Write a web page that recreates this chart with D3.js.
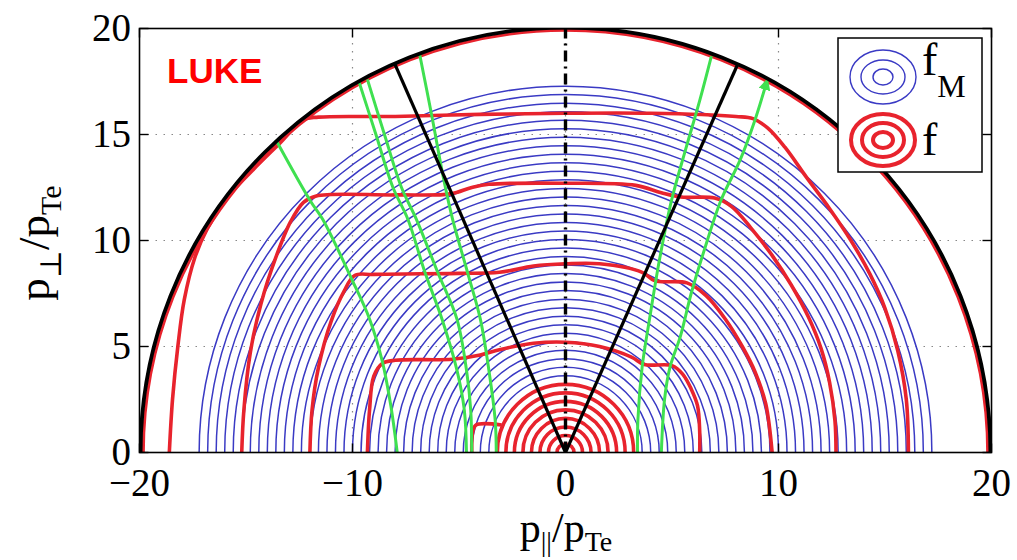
<!DOCTYPE html>
<html>
<head>
<meta charset="utf-8">
<script src="https://cdn.jsdelivr.net/npm/d3@7"></script>
<style>
  body { margin: 0; background: #fff; }
  text { font-family: "Liberation Serif", "DejaVu Serif", serif; }
</style>
</head>
<body>
<svg id="chart" width="1017" height="560"></svg>
<script>
"use strict";

// Maxwellian contours f_M (radii, p/pTe)
const blueRadii = [0.4, 0.8, 1.2, 1.6, 2.0, 2.4, 2.8, 3.2, 3.6, 4.0, 4.4, 4.8, 5.2, 5.6, 6.0,
  6.4, 6.8, 7.2, 7.6, 8.0, 8.4, 8.8, 9.2, 9.6, 10.0, 10.4, 10.8, 11.2, 11.6, 12.0, 12.4,
  12.8, 13.2, 13.6, 14.0, 14.4, 14.8, 15.2, 15.6, 16.0, 16.4, 16.8, 17.2];

// bulk of f (still maxwellian near the origin)
const redRings = [0.4, 0.8, 1.2, 1.6, 2.0, 2.4, 2.8, 3.2];

// distorted contours of f, points [p_par, p_perp]
const contourA = [[-4.4, 0], [-4.35, 1.0], [-4.2, 1.3], [-3.0, 1.3]];
const contourB = [[-9.3, 0], [-9.2, 2], [-9.0, 3.6], [-8.6, 4.2], [-8.0, 4.35], [-5.3, 4.4],
  [-4.0, 4.6], [-3.1, 4.85], [-1.5, 5.15], [0, 5.2], [1.6, 5.0], [3.1, 4.5], [3.7, 4.15],
  [5.0, 4.1], [5.5, 3.7], [5.9, 3.0], [6.2, 2.2], [6.3, 1], [6.3, 0]];
const contourC = [[-12.0, 0], [-11.9, 2], [-11.6, 4], [-11.0, 6.2], [-10.4, 7.6], [-9.9, 8.35],
  [-9.0, 8.4], [-5, 8.45], [-3.1, 8.5], [-1.5, 8.8], [0, 8.9], [1.6, 8.9], [3.6, 8.5],
  [4.2, 8.1], [5.7, 8.0], [6.6, 7.4], [7.5, 6.3], [8.3, 5.0], [8.9, 3.8], [9.4, 2.3], [9.7, 0]];
const contourD = [[-15.2, 0], [-15.1, 2], [-14.8, 4.7], [-14.3, 7], [-13.6, 9.2], [-12.9, 10.9],
  [-12.3, 11.8], [-11.7, 12.1], [-8, 12.15], [-5.4, 12.2], [-4.4, 12.5], [-3.6, 12.65],
  [0, 12.7], [3.3, 12.6], [4.5, 12.25], [5.4, 12.05], [7.0, 12.0], [7.8, 11.6], [8.7, 10.6],
  [9.7, 9.3], [10.6, 7.9], [11.4, 6.4], [12.0, 4.9], [12.4, 3.3], [12.65, 1.5], [12.7, 0]];
const contourE = [[-18.6, 0], [-18.45, 2.5], [-18.2, 5], [-17.9, 7.2], [-17.4, 9.2],
  [-16.8, 10.6], [-15.9, 12.0], [-14.7, 13.3], [-13.4, 14.6], [-12.3, 15.7], [-11.6, 15.82],
  [-8, 15.85], [-4, 15.95], [0, 16.0], [4, 16.0], [8.0, 15.85], [8.8, 15.75], [9.5, 15.3],
  [10.3, 14.4], [11.3, 13.0], [12.4, 11.5], [13.4, 10.0], [14.3, 8.4], [15.0, 6.8],
  [15.6, 4.8], [16.0, 2.5], [16.1, 0]];
const outerRedRadius = 19.82;

// ray trajectories
const rayG1 = [[-13.6, 14.75], [-12.0, 11.9], [-11.4, 11.0], [-10.0, 8.1], [-9.2, 6.3],
  [-8.6, 4.3], [-8.2, 2.2], [-7.9, 0]];
const rayG2 = [[-9.7, 17.5], [-8.9, 15], [-8.1, 12.5], [-7.4, 11.0], [-6.6, 8.5], [-5.8, 6.3],
  [-5.1, 3.9], [-4.75, 2], [-4.65, 0]];
const rayG3 = [[-9.3, 17.6], [-8.5, 15], [-7.7, 12.5], [-7.0, 11.0], [-6.0, 8.5], [-5.1, 6.3],
  [-4.65, 3.9], [-4.45, 2], [-4.4, 0]];
const rayG4 = [[-6.85, 18.8], [-6.3, 16], [-5.7, 12.8], [-5.3, 11.0], [-4.6, 8.5], [-4.0, 6.3],
  [-3.6, 3.9], [-3.3, 1.5], [-3.25, 0]];
const rayG5 = [[6.85, 18.7], [6.3, 16.6], [5.63, 14.26], [4.98, 11.9], [4.41, 9.08],
  [3.94, 6.26], [3.6, 4.05], [3.4, 1.55], [3.38, 0]];
const rayG6 = [[4.5, 0], [4.65, 2.5], [4.9, 4.0], [5.4, 5.5], [5.9, 7.5], [6.5, 9.5],
  [7.3, 11.9], [8.2, 13.8], [8.9, 15.7], [9.45, 17.5]];

// resonance cone and domain boundary
const coneLeft = [[0, 0], [-8.0, 18.3]];
const coneRight = [[0, 0], [8.1, 18.35]];
const boundaryRadius = 19.95;

const xTicks = [-20, -10, 0, 10, 20];
const yTicks = [0, 5, 10, 15, 20];
const xGrid = [-10, 0, 10];
const yGrid = [5, 10, 15];

const svg = d3.select("#chart");
const x = d3.scaleLinear().domain([-20, 20]).range([139.5, 991.5]);
const y = d3.scaleLinear().domain([0, 20]).range([452.5, 28.5]);

const defs = svg.append("defs");
defs.append("clipPath").attr("id", "plotclip")
  .append("rect")
  .attr("x", x(-20)).attr("y", y(20))
  .attr("width", x(20) - x(-20)).attr("height", y(0) - y(20));

defs.append("marker")
  .attr("id", "arrow").attr("viewBox", "0 0 10 10")
  .attr("refX", 7).attr("refY", 5)
  .attr("markerWidth", 4).attr("markerHeight", 4)
  .attr("orient", "auto")
  .append("path").attr("d", "M0,0 L10,5 L0,10 z").attr("fill", "#3fe050");

function halfCircle(r) {
  const R = x(r) - x(0);
  const p = d3.path();
  p.moveTo(x(0) - R, y(0));
  p.arc(x(0), y(0), R, Math.PI, 2 * Math.PI);
  return p.toString();
}

const line = d3.line()
  .x(d => x(d[0])).y(d => y(d[1]))
  .curve(d3.curveCatmullRom.alpha(0.5));

const plot = svg.append("g").attr("clip-path", "url(#plotclip)");

// grid
plot.selectAll(".gx").data(xGrid).enter().append("line")
  .attr("x1", d => x(d)).attr("x2", d => x(d))
  .attr("y1", y(0)).attr("y2", y(20))
  .attr("stroke", "#888").attr("stroke-width", 1.2).attr("stroke-dasharray", "1.5,6.5");
plot.selectAll(".gy").data(yGrid).enter().append("line")
  .attr("x1", x(-20)).attr("x2", x(20))
  .attr("y1", d => y(d)).attr("y2", d => y(d))
  .attr("stroke", "#888").attr("stroke-width", 1.2).attr("stroke-dasharray", "1.5,6.5");

// f_M
plot.selectAll(".fm").data(blueRadii).enter().append("path")
  .attr("d", d => halfCircle(d))
  .attr("fill", "none").attr("stroke", "#3a3ac4").attr("stroke-width", 1.5);

// f
const red = "#e8232d";
plot.append("path").attr("d", halfCircle(outerRedRadius))
  .attr("fill", "none").attr("stroke", red).attr("stroke-width", 3);
plot.selectAll(".ring").data(redRings).enter().append("path")
  .attr("d", d => halfCircle(d))
  .attr("fill", "none").attr("stroke", red).attr("stroke-width", 3.6);
plot.selectAll(".contour").data([contourA, contourB, contourC, contourD, contourE]).enter()
  .append("path")
  .attr("d", line)
  .attr("fill", "none").attr("stroke", red).attr("stroke-width", 3.6)
  .attr("stroke-linejoin", "round");

// rays
plot.selectAll(".ray").data([rayG1, rayG2, rayG3, rayG4, rayG5, rayG6]).enter()
  .append("path")
  .attr("d", line)
  .attr("fill", "none").attr("stroke", "#3fe050").attr("stroke-width", 3)
  .attr("marker-end", d => d === rayG6 ? "url(#arrow)" : null);

// cone
plot.selectAll(".cone").data([coneLeft, coneRight]).enter().append("path")
  .attr("d", d3.line().x(d => x(d[0])).y(d => y(d[1])))
  .attr("fill", "none").attr("stroke", "#000").attr("stroke-width", 3.2);
plot.append("line")
  .attr("x1", x(0)).attr("x2", x(0)).attr("y1", y(0)).attr("y2", y(20))
  .attr("stroke", "#000").attr("stroke-width", 3.4).attr("stroke-dasharray", "11,5,2,5");

// boundary
plot.append("path").attr("d", halfCircle(boundaryRadius))
  .attr("fill", "none").attr("stroke", "#000").attr("stroke-width", 3.8);

// axes box and ticks
svg.append("rect")
  .attr("x", x(-20)).attr("y", y(20))
  .attr("width", x(20) - x(-20)).attr("height", y(0) - y(20))
  .attr("fill", "none").attr("stroke", "#000").attr("stroke-width", 1.6);

const tickLen = 9;
const ticks = svg.append("g").attr("stroke", "#000").attr("stroke-width", 1.4);
xTicks.forEach(t => {
  ticks.append("line").attr("x1", x(t)).attr("x2", x(t)).attr("y1", y(0)).attr("y2", y(0) - tickLen);
  ticks.append("line").attr("x1", x(t)).attr("x2", x(t)).attr("y1", y(20)).attr("y2", y(20) + tickLen);
});
yTicks.forEach(t => {
  ticks.append("line").attr("x1", x(-20)).attr("x2", x(-20) + tickLen).attr("y1", y(t)).attr("y2", y(t));
  ticks.append("line").attr("x1", x(20)).attr("x2", x(20) - tickLen).attr("y1", y(t)).attr("y2", y(t));
});

const fmt = d3.format("d");
svg.selectAll(".xl").data(xTicks).enter().append("text")
  .attr("x", x).attr("y", 496)
  .attr("text-anchor", "middle").attr("font-size", 39)
  .text(fmt);
svg.selectAll(".yl").data(yTicks).enter().append("text")
  .attr("x", 131).attr("y", d => y(d) + 12)
  .attr("text-anchor", "end").attr("font-size", 39)
  .text(fmt);

// axis titles
const xt = svg.append("text").attr("x", 566).attr("y", 542)
  .attr("text-anchor", "middle").attr("font-size", 42);
xt.append("tspan").text("p");
xt.append("tspan").attr("font-size", 28).attr("dy", 9).text("||");
xt.append("tspan").attr("dy", -9).text("/p");
xt.append("tspan").attr("font-size", 28).attr("dy", 9).text("Te");

const yt = svg.append("text").attr("transform", "translate(49,243) rotate(-90)")
  .attr("text-anchor", "middle").attr("font-size", 45);
yt.append("tspan").text("p");
yt.append("tspan").attr("font-size", 30).attr("dy", 12).text("\u22a5");
yt.append("tspan").attr("dy", -12).text("/p");
yt.append("tspan").attr("font-size", 30).attr("dy", 12).text("Te");

// code label
svg.append("text").attr("x", 167).attr("y", 83)
  .style("font-family", "'Liberation Sans', Arial, sans-serif")
  .attr("font-weight", "bold").attr("font-size", 35).attr("fill", "#ff0000")
  .text("LUKE");

// legend
const lg = svg.append("g");
lg.append("rect").attr("x", 838).attr("y", 38).attr("width", 144).attr("height", 134)
  .attr("fill", "#fff").attr("stroke", "#000").attr("stroke-width", 1.5);
[[33, 27], [22, 17], [10, 8]].forEach(r => {
  lg.append("ellipse").attr("cx", 883).attr("cy", 77).attr("rx", r[0]).attr("ry", r[1])
    .attr("fill", "none").attr("stroke", "#3a3ac4").attr("stroke-width", 1.4);
});
[[32, 26], [21, 17], [10, 8]].forEach(r => {
  lg.append("ellipse").attr("cx", 883).attr("cy", 140).attr("rx", r[0]).attr("ry", r[1])
    .attr("fill", "none").attr("stroke", red).attr("stroke-width", 4);
});
const l1 = lg.append("text").attr("x", 922).attr("y", 75).attr("font-size", 46);
l1.append("tspan").text("f");
l1.append("tspan").attr("font-size", 32).attr("dy", 22).text("M");
lg.append("text").attr("x", 922).attr("y", 155).attr("font-size", 46).text("f");
</script>
</body>
</html>
